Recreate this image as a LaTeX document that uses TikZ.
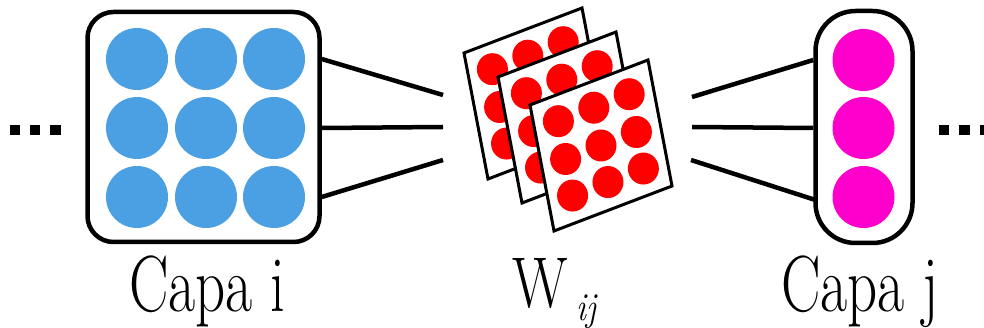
\documentclass[tikz,border=0pt]{standalone}
\usepackage{graphicx}
\definecolor{neuronblue}{RGB}{74,160,226}
\definecolor{neuronpink}{RGB}{255,0,204}
\definecolor{weightred}{RGB}{255,0,0}
\begin{document}
\begin{tikzpicture}[x=1pt,y=-1pt,
  layerbox/.style={draw=black,line width=4.5pt,fill=white,rectangle,inner sep=0pt},
  neuron/.style={circle,inner sep=0pt,minimum size=62pt},
  link/.style={draw=black,line width=4.5pt},
  sheet/.style={draw=black,fill=white,line width=3pt,line join=miter},
  dotsq/.style={fill=black,rectangle,inner sep=0pt,minimum size=10.5pt},
  caption/.style={inner sep=0pt,anchor=base,font=\rmfamily}]
\useasboundingbox (0,0) rectangle (984,328);

% layer i: 3x3 neurons in a rounded box
\node[layerbox,rounded corners=26pt,minimum width=232pt,minimum height=230pt] (capai) at (203.5,127) {};
\foreach \r/\y in {1/59,2/128,3/197}
  \foreach \c/\x in {1/137,2/206,3/274}
    \node[neuron,fill=neuronblue] (ci\r\c) at (\x,\y) {};

% layer j: a column of 3 neurons
\node[layerbox,rounded corners=40pt,minimum width=97pt,minimum height=232pt] (capaj) at (864,127) {};
\foreach \r/\y in {1/60,2/128,3/197}
  \node[neuron,fill=neuronpink] (cj\r) at (863.5,\y) {};

% ellipsis marks on both sides
\foreach \k/\x in {1/15,2/35,3/55.5}
  \node[dotsq] (ldot\k) at (\x,130) {};
\foreach \k/\x in {1/944,2/964.5,3/985}
  \node[dotsq] (rdot\k) at (\x,130) {};

% stacked weight matrices W_ij
\foreach \n/\ox/\oy in {1/464/53,2/498/77,3/530/105}{
  \begin{scope}[shift={(\ox,\oy)}]
    \coordinate (w\n) at (0,0);
    \filldraw[sheet] (0,0) -- (118,-45) -- (142,81) -- (24,126) -- cycle;
    \foreach \u in {0.2,0.5,0.8}
      \foreach \v in {0.2,0.5,0.79}
        \fill[weightred] ({118*\u+24*\v},{-45*\u+126*\v}) ellipse [x radius=15.5pt,y radius=16pt];
  \end{scope}
}

% connector ends next to the weight stack
\coordinate (in1) at (443,95);
\coordinate (in2) at (443,127);
\coordinate (in3) at (443,160);
\coordinate (out1) at (692,97);
\coordinate (out2) at (692,127);
\coordinate (out3) at (691,160);

\draw[link] (capai.east |- ci13) -- (in1);
\draw[link] (capai.east |- ci23) -- (in2);
\draw[link] (capai.east |- ci33) -- (in3);
\draw[link] (out1) -- (capaj.west |- cj1);
\draw[link] (out2) -- (capaj.west |- cj2);
\draw[link] (out3) -- (815.5,200);

% captions
\node[caption] (lbli) at (207.5,312) {\fontsize{59}{64}\selectfont\scalebox{1}[1.35]{Capa i}};
\node[caption] (lblj) at (860,312) {\fontsize{59}{64}\selectfont\scalebox{1}[1.35]{Capa j}};
\node[caption,anchor=base west] (lblw) at (512,307) {\fontsize{58}{62}\selectfont\scalebox{1}[1.24]{W}};
\node[caption,anchor=base west] (lblsub) at (576,320) {\fontsize{33}{36}\selectfont\itshape\scalebox{1}[1.2]{ij}};
\end{tikzpicture}
\end{document}
